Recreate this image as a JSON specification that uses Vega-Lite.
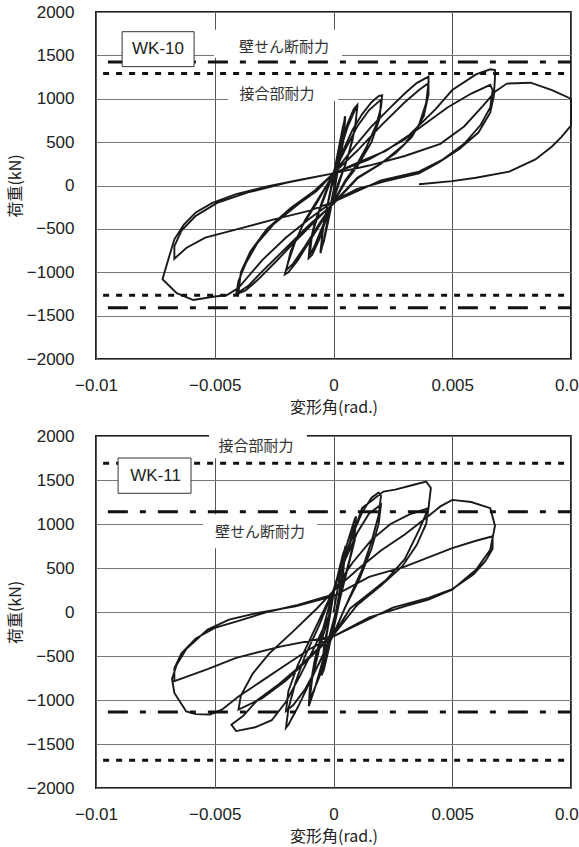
{
"$schema": "https://vega.github.io/schema/vega-lite/v6.json",
"background": "white",
"padding": {"left": 6, "top": 2, "right": 0, "bottom": 0},
"spacing": 10,
"config": {
 "view": {"stroke": "#222", "strokeWidth": 2},
 "axis": {"domain": false, "ticks": false, "grid": true, "gridColor": "#777", "gridWidth": 1, "labelFont": "Liberation Sans", "labelFontSize": 17, "labelColor": "#222", "labelFlush": false, "labelOverlap": false, "labelBound": false, "titleFont": "Noto Sans CJK JP", "titleFontSize": 16, "titleFontWeight": "normal", "titleColor": "#222"},
 "axisX": {"labelPadding": 18, "titlePadding": 6, "gridColor": "#555"},
 "axisY": {"labelPadding": 22, "titlePadding": 3}
},
"datasets": {
 "wk10": [
 {"x":0,"y":0},{"x":0.0002,"y":280},{"x":0.0004,"y":600},{"x":0.00048,"y":800},{"x":0.0004,"y":560},{"x":0.0002,"y":250},{"x":0,"y":-60},{"x":-0.0002,"y":-330},{"x":-0.0004,"y":-620},{"x":-0.00055,"y":-780},{"x":-0.00045,"y":-500},{"x":-0.0002,"y":-150},{"x":0,"y":120},{"x":0.0002,"y":400},{"x":0.0004,"y":680},{"x":0.0005,"y":790},{"x":0.00042,"y":520},{"x":0.0002,"y":200},{"x":0,"y":-120},{"x":-0.0002,"y":-380},{"x":-0.0004,"y":-640},{"x":-0.00055,"y":-760},{"x":-0.0004,"y":-420},{"x":-0.0001,"y":-40},{"x":0.0001,"y":200},
 {"x":0.0003,"y":450},{"x":0.0006,"y":720},{"x":0.00085,"y":880},{"x":0.001,"y":930},{"x":0.00095,"y":760},{"x":0.0008,"y":520},{"x":0.0005,"y":240},{"x":0.0002,"y":30},{"x":0,"y":-160},{"x":-0.0003,"y":-380},{"x":-0.0006,"y":-620},{"x":-0.0009,"y":-800},{"x":-0.00105,"y":-840},{"x":-0.001,"y":-680},{"x":-0.0008,"y":-440},{"x":-0.0005,"y":-200},{"x":-0.0002,"y":20},{"x":0,"y":150},{"x":0.0003,"y":420},{"x":0.0006,"y":680},{"x":0.0009,"y":870},{"x":0.001,"y":900},{"x":0.0009,"y":650},{"x":0.0006,"y":330},{"x":0.0003,"y":80},{"x":0,"y":-170},{"x":-0.0004,"y":-430},{"x":-0.0008,"y":-700},{"x":-0.001,"y":-800},{"x":-0.0009,"y":-560},{"x":-0.0006,"y":-300},{"x":-0.0002,"y":0},{"x":0,"y":140},
 {"x":0.0004,"y":400},{"x":0.0008,"y":640},{"x":0.0012,"y":820},{"x":0.0016,"y":960},{"x":0.0019,"y":1030},{"x":0.00205,"y":1040},{"x":0.002,"y":900},{"x":0.0018,"y":700},{"x":0.0014,"y":450},{"x":0.001,"y":250},{"x":0.0005,"y":60},{"x":0,"y":-190},{"x":-0.0005,"y":-420},{"x":-0.001,"y":-640},{"x":-0.0015,"y":-860},{"x":-0.0019,"y":-1000},{"x":-0.00205,"y":-1025},{"x":-0.0019,"y":-880},{"x":-0.0016,"y":-640},{"x":-0.0012,"y":-400},{"x":-0.0007,"y":-180},{"x":-0.0002,"y":40},{"x":0,"y":140},{"x":0.0005,"y":420},{"x":0.001,"y":680},{"x":0.0015,"y":870},{"x":0.002,"y":990},{"x":0.00195,"y":780},{"x":0.0016,"y":500},{"x":0.001,"y":220},{"x":0.0005,"y":40},{"x":0,"y":-200},{"x":-0.0006,"y":-440},{"x":-0.0012,"y":-700},{"x":-0.0017,"y":-900},{"x":-0.002,"y":-980},{"x":-0.0018,"y":-760},{"x":-0.0013,"y":-460},{"x":-0.0007,"y":-200},{"x":0,"y":140},
 {"x":0.0008,"y":420},{"x":0.0016,"y":680},{"x":0.0024,"y":900},{"x":0.003,"y":1060},{"x":0.0035,"y":1180},{"x":0.004,"y":1255},{"x":0.004,"y":1050},{"x":0.0038,"y":800},{"x":0.0033,"y":560},{"x":0.0026,"y":370},{"x":0.0018,"y":220},{"x":0.001,"y":90},{"x":0,"y":-200},{"x":-0.0008,"y":-420},{"x":-0.0016,"y":-640},{"x":-0.0024,"y":-870},{"x":-0.0032,"y":-1090},{"x":-0.0037,"y":-1210},{"x":-0.0041,"y":-1256},{"x":-0.004,"y":-1100},{"x":-0.0037,"y":-900},{"x":-0.0032,"y":-660},{"x":-0.0025,"y":-440},{"x":-0.0015,"y":-220},{"x":-0.0007,"y":-60},{"x":0,"y":140},
 {"x":0.001,"y":400},{"x":0.002,"y":690},{"x":0.003,"y":960},{"x":0.0036,"y":1100},{"x":0.004,"y":1180},{"x":0.0039,"y":950},{"x":0.0036,"y":700},{"x":0.003,"y":480},{"x":0.002,"y":250},{"x":0.001,"y":80},{"x":0,"y":-210},{"x":-0.001,"y":-450},{"x":-0.002,"y":-720},{"x":-0.003,"y":-990},{"x":-0.0036,"y":-1160},{"x":-0.004,"y":-1230},{"x":-0.0039,"y":-1000},{"x":-0.0035,"y":-760},{"x":-0.0028,"y":-500},{"x":-0.0018,"y":-260},{"x":-0.0008,"y":-60},{"x":0,"y":140},
 {"x":0.0015,"y":300},{"x":0.003,"y":530},{"x":0.0043,"y":880},{"x":0.005,"y":1100},{"x":0.006,"y":1280},{"x":0.0066,"y":1340},{"x":0.0068,"y":1330},{"x":0.0068,"y":1250},{"x":0.00675,"y":1030},{"x":0.0066,"y":840},{"x":0.0061,"y":610},{"x":0.0053,"y":420},{"x":0.0044,"y":260},{"x":0.0036,"y":140},{"x":0.0022,"y":50},{"x":0.001,"y":-40},{"x":0,"y":-180},
 {"x":-0.001,"y":-380},{"x":-0.002,"y":-600},{"x":-0.003,"y":-860},{"x":-0.004,"y":-1180},{"x":-0.0045,"y":-1265},{"x":-0.005,"y":-1280},{"x":-0.0059,"y":-1320},{"x":-0.0066,"y":-1240},{"x":-0.0072,"y":-1080},{"x":-0.0069,"y":-800},{"x":-0.0067,"y":-620},{"x":-0.0063,"y":-450},{"x":-0.0058,"y":-310},{"x":-0.0051,"y":-200},{"x":-0.0041,"y":-100},{"x":-0.0028,"y":-10},{"x":-0.0015,"y":60},{"x":0,"y":140},
 {"x":0.001,"y":260},{"x":0.0022,"y":400},{"x":0.0035,"y":640},{"x":0.0048,"y":900},{"x":0.0058,"y":1060},{"x":0.0066,"y":1160},{"x":0.0067,"y":1100},{"x":0.0066,"y":900},{"x":0.0062,"y":700},{"x":0.0055,"y":480},{"x":0.0046,"y":300},{"x":0.0036,"y":160},{"x":0.002,"y":60},{"x":0,"y":-190},
 {"x":-0.001,"y":-290},{"x":-0.0025,"y":-390},{"x":-0.004,"y":-500},{"x":-0.0054,"y":-600},{"x":-0.0062,"y":-720},{"x":-0.0067,"y":-845},{"x":-0.0067,"y":-700},{"x":-0.0064,"y":-520},{"x":-0.0058,"y":-350},{"x":-0.0049,"y":-200},{"x":-0.0036,"y":-80},{"x":-0.002,"y":30},{"x":0,"y":140},
 {"x":0.0015,"y":230},{"x":0.003,"y":340},{"x":0.0045,"y":480},{"x":0.0055,"y":680},{"x":0.0063,"y":920},{"x":0.0068,"y":1080},{"x":0.0073,"y":1175},{"x":0.0083,"y":1185},{"x":0.0092,"y":1100},{"x":0.01,"y":1000},{"x":0.01,"y":690},{"x":0.0096,"y":560},{"x":0.0092,"y":450},{"x":0.0085,"y":300},{"x":0.0074,"y":160},{"x":0.006,"y":90},{"x":0.005,"y":50},{"x":0.0036,"y":15}
 ],
 "wk11": [
 {"x":0,"y":0},{"x":0.0002,"y":300},{"x":0.0004,"y":600},{"x":0.0005,"y":750},{"x":0.0004,"y":480},{"x":0.0002,"y":150},{"x":0,"y":-150},{"x":-0.0002,"y":-420},{"x":-0.0004,"y":-650},{"x":-0.0005,"y":-720},{"x":-0.0004,"y":-450},{"x":-0.0002,"y":-120},{"x":0,"y":200},{"x":0.0002,"y":440},{"x":0.0004,"y":660},{"x":0.0005,"y":730},{"x":0.0004,"y":420},{"x":0.0001,"y":0},{"x":-0.0001,"y":-250},{"x":-0.0003,"y":-520},{"x":-0.0005,"y":-700},{"x":-0.0004,"y":-400},{"x":-0.0001,"y":50},{"x":0,"y":230},
 {"x":0.0003,"y":500},{"x":0.0006,"y":800},{"x":0.0009,"y":1060},{"x":0.00095,"y":1085},{"x":0.0009,"y":900},{"x":0.0007,"y":620},{"x":0.0004,"y":320},{"x":0.0001,"y":0},{"x":-0.0002,"y":-300},{"x":-0.0005,"y":-600},{"x":-0.0008,"y":-880},{"x":-0.00104,"y":-1070},{"x":-0.001,"y":-880},{"x":-0.0008,"y":-560},{"x":-0.0005,"y":-250},{"x":-0.0002,"y":50},{"x":0,"y":250},{"x":0.0003,"y":520},{"x":0.0006,"y":800},{"x":0.0009,"y":1000},{"x":0.0009,"y":820},{"x":0.0006,"y":500},{"x":0.0003,"y":180},{"x":0,"y":-200},{"x":-0.0003,"y":-470},{"x":-0.0006,"y":-740},{"x":-0.001,"y":-1000},{"x":-0.0009,"y":-760},{"x":-0.0006,"y":-420},{"x":-0.0002,"y":-50},{"x":0,"y":240},
 {"x":0.0004,"y":560},{"x":0.0008,"y":880},{"x":0.0012,"y":1130},{"x":0.0016,"y":1300},{"x":0.0019,"y":1357},{"x":0.002,"y":1320},{"x":0.0019,"y":1100},{"x":0.0016,"y":800},{"x":0.0012,"y":480},{"x":0.0007,"y":180},{"x":0,"y":-250},{"x":-0.0005,"y":-520},{"x":-0.001,"y":-800},{"x":-0.0015,"y":-1080},{"x":-0.0019,"y":-1280},{"x":-0.002,"y":-1315},{"x":-0.0019,"y":-1100},{"x":-0.0016,"y":-800},{"x":-0.0012,"y":-500},{"x":-0.0006,"y":-150},{"x":0,"y":250},{"x":0.0005,"y":600},{"x":0.001,"y":900},{"x":0.0015,"y":1120},{"x":0.002,"y":1220},{"x":0.0019,"y":1000},{"x":0.0016,"y":720},{"x":0.0011,"y":380},{"x":0.0005,"y":60},{"x":0,"y":-260},{"x":-0.0006,"y":-580},{"x":-0.0012,"y":-880},{"x":-0.0017,"y":-1060},{"x":-0.002,"y":-1126},{"x":-0.0019,"y":-900},{"x":-0.0015,"y":-600},{"x":-0.0009,"y":-260},{"x":0,"y":250},
 {"x":0.0006,"y":700},{"x":0.0012,"y":1180},{"x":0.0021,"y":1368},{"x":0.0026,"y":1390},{"x":0.0033,"y":1440},{"x":0.0039,"y":1482},{"x":0.0041,"y":1410},{"x":0.004,"y":1180},{"x":0.0036,"y":930},{"x":0.003,"y":600},{"x":0.0022,"y":360},{"x":0.0015,"y":210},{"x":0.0007,"y":40},{"x":0,"y":-260},{"x":-0.00085,"y":-465},{"x":-0.0016,"y":-660},{"x":-0.0023,"y":-820},{"x":-0.0032,"y":-1000},{"x":-0.0038,"y":-1180},{"x":-0.0043,"y":-1280},{"x":-0.0041,"y":-1353},{"x":-0.0033,"y":-1310},{"x":-0.0026,"y":-1230},{"x":-0.002,"y":-1020},{"x":-0.0014,"y":-720},{"x":-0.0008,"y":-400},{"x":-0.0002,"y":-50},{"x":0,"y":240},
 {"x":0.0008,"y":560},{"x":0.0016,"y":820},{"x":0.0024,"y":1000},{"x":0.0032,"y":1110},{"x":0.004,"y":1180},{"x":0.0039,"y":1000},{"x":0.0035,"y":760},{"x":0.0029,"y":520},{"x":0.002,"y":300},{"x":0.001,"y":80},{"x":0,"y":-260},{"x":-0.001,"y":-520},{"x":-0.002,"y":-780},{"x":-0.003,"y":-980},{"x":-0.004,"y":-1108},{"x":-0.0039,"y":-950},{"x":-0.0034,"y":-700},{"x":-0.0027,"y":-470},{"x":-0.0017,"y":-220},{"x":-0.0007,"y":40},{"x":0,"y":240},
 {"x":0.001,"y":480},{"x":0.002,"y":700},{"x":0.003,"y":880},{"x":0.004,"y":1090},{"x":0.0045,"y":1200},{"x":0.005,"y":1274},{"x":0.0058,"y":1250},{"x":0.0066,"y":1180},{"x":0.0068,"y":980},{"x":0.0066,"y":707},{"x":0.006,"y":480},{"x":0.005,"y":253},{"x":0.004,"y":140},{"x":0.003,"y":64},{"x":0.0015,"y":-60},{"x":0,"y":-276},
 {"x":-0.001,"y":-420},{"x":-0.002,"y":-600},{"x":-0.003,"y":-780},{"x":-0.004,"y":-960},{"x":-0.0047,"y":-1110},{"x":-0.0052,"y":-1164},{"x":-0.0058,"y":-1160},{"x":-0.0062,"y":-1130},{"x":-0.0067,"y":-920},{"x":-0.0068,"y":-760},{"x":-0.0066,"y":-600},{"x":-0.0062,"y":-420},{"x":-0.0053,"y":-200},{"x":-0.0044,"y":-87},{"x":-0.0032,"y":-10},{"x":-0.0016,"y":64},{"x":0,"y":180},
 {"x":0.0015,"y":400},{"x":0.003,"y":515},{"x":0.005,"y":726},{"x":0.006,"y":810},{"x":0.0067,"y":860},{"x":0.0067,"y":720},{"x":0.0064,"y":580},{"x":0.0059,"y":430},{"x":0.005,"y":260},{"x":0.004,"y":160},{"x":0.0025,"y":50},{"x":0,"y":-276},
 {"x":-0.0022,"y":-390},{"x":-0.0041,"y":-522},{"x":-0.0053,"y":-650},{"x":-0.0067,"y":-786},{"x":-0.0067,"y":-640},{"x":-0.0064,"y":-470},{"x":-0.0058,"y":-300},{"x":-0.005,"y":-180},{"x":-0.004,"y":-100},{"x":-0.0028,"y":0},{"x":-0.0015,"y":80},{"x":0,"y":200}
 ],
 "wk10lines": [
  {"kind": "壁せん断耐力", "y": 1425}, {"kind": "壁せん断耐力", "y": -1410},
  {"kind": "接合部耐力", "y": 1290}, {"kind": "接合部耐力", "y": -1265}
 ],
 "wk11lines": [
  {"kind": "接合部耐力", "y": 1690}, {"kind": "接合部耐力", "y": -1685},
  {"kind": "壁せん断耐力", "y": 1140}, {"kind": "壁せん断耐力", "y": -1135}
 ]
},
"vconcat": [
 {
  "width": 475, "height": 347,
  "layer": [
   {"data": {"name": "wk10"},
    "mark": {"type": "line", "color": "#1a1a1a", "strokeWidth": 1.9},
    "encoding": {
     "x": {"field": "x", "type": "quantitative", "title": "変形角(rad.)", "scale": {"domain": [-0.01, 0.01], "nice": false, "zero": false}, "axis": {"values": [-0.01, -0.005, 0, 0.005, 0.01], "format": "~f"}},
     "y": {"field": "y", "type": "quantitative", "title": "荷重(kN)", "scale": {"domain": [-2000, 2000], "nice": false}, "axis": {"values": [-2000, -1500, -1000, -500, 0, 500, 1000, 1500, 2000], "format": "d"}},
     "order": {"value": null}
    }},
   {"data": {"values": [{}]},
    "mark": {"type": "rect", "fill": "white"},
    "encoding": {"x": {"datum": -0.00503, "type": "quantitative"}, "x2": {"datum": 0.00036}, "y": {"datum": 1796, "type": "quantitative"}, "y2": {"datum": 1473}}},
   {"data": {"values": [{}]},
    "mark": {"type": "rect", "fill": "white"},
    "encoding": {"x": {"datum": -0.00444, "type": "quantitative"}, "x2": {"datum": 0.0002}, "y": {"datum": 1470, "type": "quantitative"}, "y2": {"datum": 975}}},
   {"data": {"name": "wk10lines"},
    "transform": [{"filter": "datum.kind === '壁せん断耐力'"}],
    "mark": {"type": "rule", "color": "#111", "strokeWidth": 3, "strokeDash": [20, 12, 6, 12]},
    "encoding": {"x": {"datum": -0.0095, "type": "quantitative"}, "x2": {"datum": 0.01}, "y": {"field": "y", "type": "quantitative", "title": "荷重(kN)"}}},
   {"data": {"name": "wk10lines"},
    "transform": [{"filter": "datum.kind === '接合部耐力'"}],
    "mark": {"type": "rule", "color": "#111", "strokeWidth": 3, "strokeDash": [6, 7]},
    "encoding": {"x": {"datum": -0.0097, "type": "quantitative"}, "x2": {"datum": 0.01}, "y": {"field": "y", "type": "quantitative", "title": "荷重(kN)"}}},
   {"data": {"values": [{}]},
    "mark": {"type": "rect", "fill": "white", "stroke": "#333", "strokeWidth": 1},
    "encoding": {"x": {"datum": -0.0089, "type": "quantitative"}, "x2": {"datum": -0.00587}, "y": {"datum": 1773, "type": "quantitative"}, "y2": {"datum": 1370}}},
   {"data": {"values": [{}]},
    "mark": {"type": "text", "text": "WK-10", "font": "Liberation Sans", "fontSize": 17, "color": "#222"},
    "encoding": {"x": {"datum": -0.00739, "type": "quantitative"}, "y": {"datum": 1571, "type": "quantitative"}}},
   {"data": {"values": [{}]},
    "mark": {"type": "text", "text": "壁せん断耐力", "font": "Noto Sans CJK JP", "fontSize": 15, "color": "#333"},
    "encoding": {"x": {"datum": -0.00208, "type": "quantitative"}, "y": {"datum": 1600, "type": "quantitative"}}},
   {"data": {"values": [{}]},
    "mark": {"type": "text", "text": "接合部耐力", "font": "Noto Sans CJK JP", "fontSize": 15, "color": "#333"},
    "encoding": {"x": {"datum": -0.00238, "type": "quantitative"}, "y": {"datum": 1058, "type": "quantitative"}}}
  ]
 },
 {
  "width": 475, "height": 352,
  "layer": [
   {"data": {"name": "wk11"},
    "mark": {"type": "line", "color": "#1a1a1a", "strokeWidth": 1.9},
    "encoding": {
     "x": {"field": "x", "type": "quantitative", "title": "変形角(rad.)", "scale": {"domain": [-0.01, 0.01], "nice": false, "zero": false}, "axis": {"values": [-0.01, -0.005, 0, 0.005, 0.01], "format": "~f"}},
     "y": {"field": "y", "type": "quantitative", "title": "荷重(kN)", "scale": {"domain": [-2000, 2000], "nice": false}, "axis": {"values": [-2000, -1500, -1000, -500, 0, 500, 1000, 1500, 2000], "format": "d"}},
     "order": {"value": null}
    }},
   {"data": {"values": [{}]},
    "mark": {"type": "rect", "fill": "white"},
    "encoding": {"x": {"datum": -0.00524, "type": "quantitative"}, "x2": {"datum": -0.00112}, "y": {"datum": 2020, "type": "quantitative"}, "y2": {"datum": 1747}}},
   {"data": {"values": [{}]},
    "mark": {"type": "rect", "fill": "white"},
    "encoding": {"x": {"datum": -0.00549, "type": "quantitative"}, "x2": {"datum": -0.00069}, "y": {"datum": 1110, "type": "quantitative"}, "y2": {"datum": 724}}},
   {"data": {"name": "wk11lines"},
    "transform": [{"filter": "datum.kind === '壁せん断耐力'"}],
    "mark": {"type": "rule", "color": "#111", "strokeWidth": 3, "strokeDash": [20, 12, 6, 12]},
    "encoding": {"x": {"datum": -0.0095, "type": "quantitative"}, "x2": {"datum": 0.01}, "y": {"field": "y", "type": "quantitative", "title": "荷重(kN)"}}},
   {"data": {"name": "wk11lines"},
    "transform": [{"filter": "datum.kind === '接合部耐力'"}],
    "mark": {"type": "rule", "color": "#111", "strokeWidth": 3, "strokeDash": [6, 7]},
    "encoding": {"x": {"datum": -0.0097, "type": "quantitative"}, "x2": {"datum": 0.01}, "y": {"field": "y", "type": "quantitative", "title": "荷重(kN)"}}},
   {"data": {"values": [{}]},
    "mark": {"type": "rect", "fill": "white", "stroke": "#333", "strokeWidth": 1},
    "encoding": {"x": {"datum": -0.00907, "type": "quantitative"}, "x2": {"datum": -0.006}, "y": {"datum": 1750, "type": "quantitative"}, "y2": {"datum": 1349}}},
   {"data": {"values": [{}]},
    "mark": {"type": "text", "text": "WK-11", "font": "Liberation Sans", "fontSize": 17, "color": "#222"},
    "encoding": {"x": {"datum": -0.00749, "type": "quantitative"}, "y": {"datum": 1545, "type": "quantitative"}}},
   {"data": {"values": [{}]},
    "mark": {"type": "text", "text": "接合部耐力", "font": "Noto Sans CJK JP", "fontSize": 15, "color": "#333"},
    "encoding": {"x": {"datum": -0.00326, "type": "quantitative"}, "y": {"datum": 1885, "type": "quantitative"}}},
   {"data": {"values": [{}]},
    "mark": {"type": "text", "text": "壁せん断耐力", "font": "Noto Sans CJK JP", "fontSize": 15, "color": "#333"},
    "encoding": {"x": {"datum": -0.0031, "type": "quantitative"}, "y": {"datum": 912, "type": "quantitative"}}}
  ]
 }
]
}
